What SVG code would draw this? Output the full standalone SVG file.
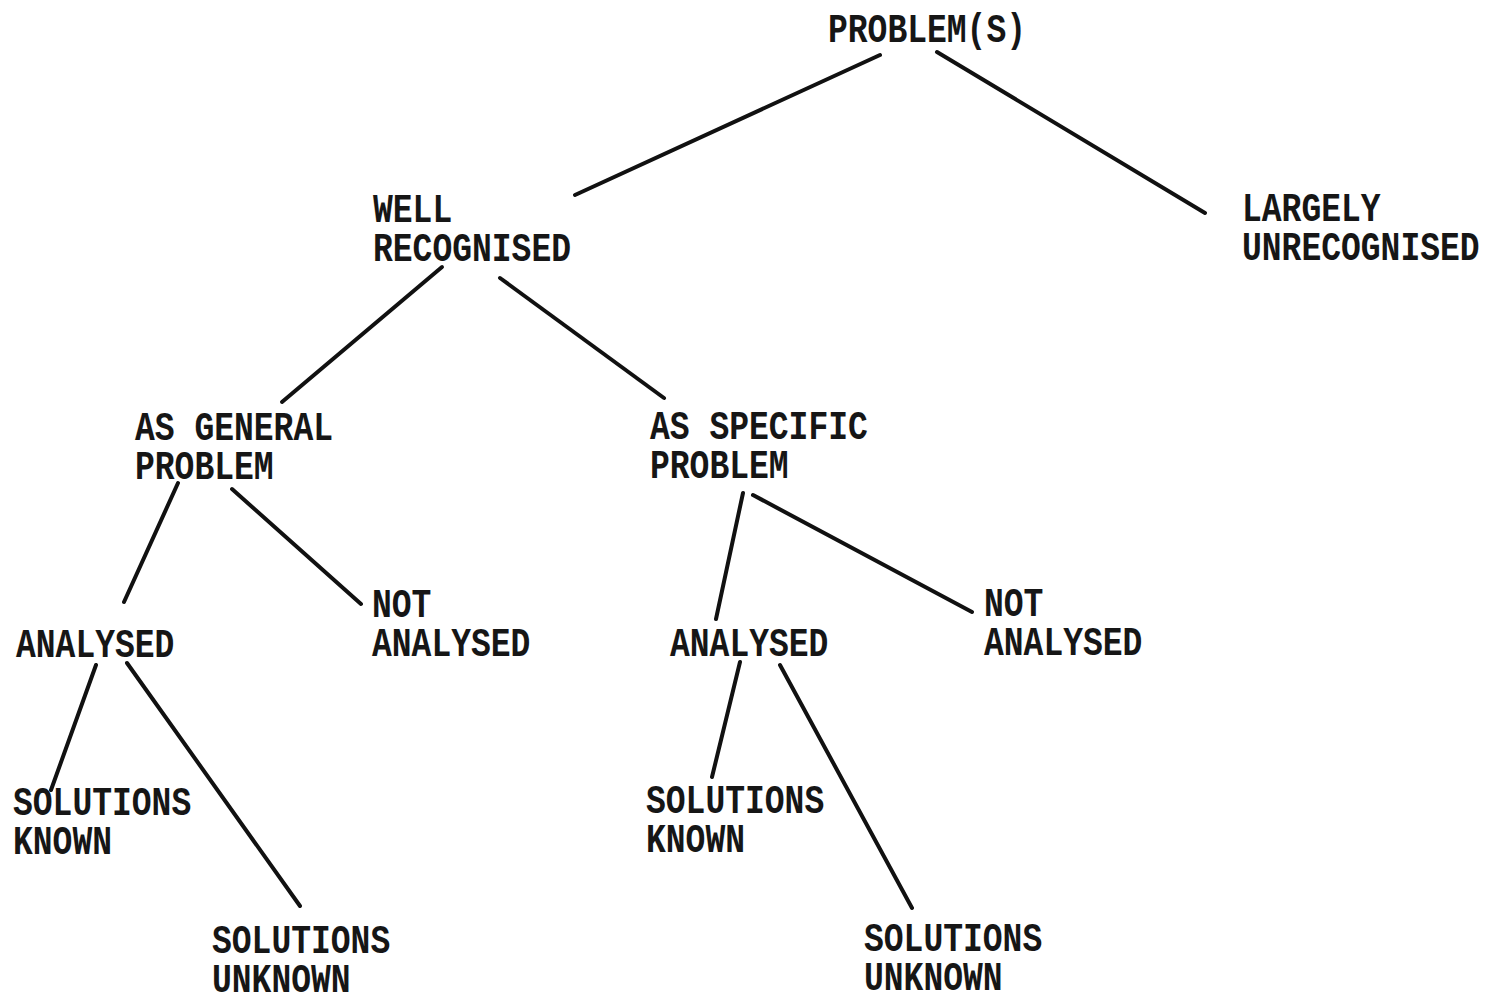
<svg xmlns="http://www.w3.org/2000/svg" width="1496" height="995" viewBox="0 0 1496 995">
  <style>
    .lbl { font-family: "Liberation Mono", "Courier New", monospace; font-size: 33px; font-weight: bold; fill: #161616; }
    .edge { stroke: #111; stroke-width: 4; stroke-linecap: round; fill: none; }
  </style>
  <rect width="1496" height="995" fill="#ffffff"/>

  <!-- connectors -->
  <g id="connectors">
    <line class="edge" x1="575" y1="195" x2="880" y2="55"/>
    <line class="edge" x1="937" y1="52" x2="1205" y2="213"/>
    <line class="edge" x1="442" y1="267" x2="282" y2="402"/>
    <line class="edge" x1="500" y1="278" x2="664" y2="398"/>
    <line class="edge" x1="178" y1="483" x2="124" y2="602"/>
    <line class="edge" x1="232" y1="489" x2="361" y2="604"/>
    <line class="edge" x1="743" y1="493" x2="716" y2="619"/>
    <line class="edge" x1="753" y1="495" x2="972" y2="612"/>
    <line class="edge" x1="96" y1="665" x2="51" y2="790"/>
    <line class="edge" x1="127" y1="663" x2="300" y2="906"/>
    <line class="edge" x1="740" y1="662" x2="712" y2="777"/>
    <line class="edge" x1="780" y1="665" x2="912" y2="908"/>
  </g>

  <!-- nodes: each label is set at its baseline, then stretched vertically -->
  <g id="problems"><text class="lbl" transform="translate(828,42) scale(1,1.25)">PROBLEM(S)</text></g>
  <g id="well-recognised"><text class="lbl" transform="translate(373,222) scale(1,1.25)"><tspan x="0" y="0">WELL</tspan><tspan x="0" y="31.2">RECOGNISED</tspan></text></g>
  <g id="largely-unrecognised"><text class="lbl" transform="translate(1242,221) scale(1,1.25)"><tspan x="0" y="0">LARGELY</tspan><tspan x="0" y="31.2">UNRECOGNISED</tspan></text></g>
  <g id="general-problem"><text class="lbl" transform="translate(135,440) scale(1,1.25)"><tspan x="0" y="0">AS GENERAL</tspan><tspan x="0" y="31.2">PROBLEM</tspan></text></g>
  <g id="specific-problem"><text class="lbl" transform="translate(650,439) scale(1,1.25)"><tspan x="0" y="0">AS SPECIFIC</tspan><tspan x="0" y="31.2">PROBLEM</tspan></text></g>
  <g id="general-analysed"><text class="lbl" transform="translate(16,657) scale(1,1.25)">ANALYSED</text></g>
  <g id="general-not-analysed"><text class="lbl" transform="translate(372,617) scale(1,1.25)"><tspan x="0" y="0">NOT</tspan><tspan x="0" y="31.2">ANALYSED</tspan></text></g>
  <g id="specific-analysed"><text class="lbl" transform="translate(670,656) scale(1,1.25)">ANALYSED</text></g>
  <g id="specific-not-analysed"><text class="lbl" transform="translate(984,616) scale(1,1.25)"><tspan x="0" y="0">NOT</tspan><tspan x="0" y="31.2">ANALYSED</tspan></text></g>
  <g id="general-solutions-known"><text class="lbl" transform="translate(13,815) scale(1,1.25)"><tspan x="0" y="0">SOLUTIONS</tspan><tspan x="0" y="31.2">KNOWN</tspan></text></g>
  <g id="general-solutions-unknown"><text class="lbl" transform="translate(212,953) scale(1,1.25)"><tspan x="0" y="0">SOLUTIONS</tspan><tspan x="0" y="31.2">UNKNOWN</tspan></text></g>
  <g id="specific-solutions-known"><text class="lbl" transform="translate(646,813) scale(1,1.25)"><tspan x="0" y="0">SOLUTIONS</tspan><tspan x="0" y="31.2">KNOWN</tspan></text></g>
  <g id="specific-solutions-unknown"><text class="lbl" transform="translate(864,951) scale(1,1.25)"><tspan x="0" y="0">SOLUTIONS</tspan><tspan x="0" y="31.2">UNKNOWN</tspan></text></g>
</svg>
